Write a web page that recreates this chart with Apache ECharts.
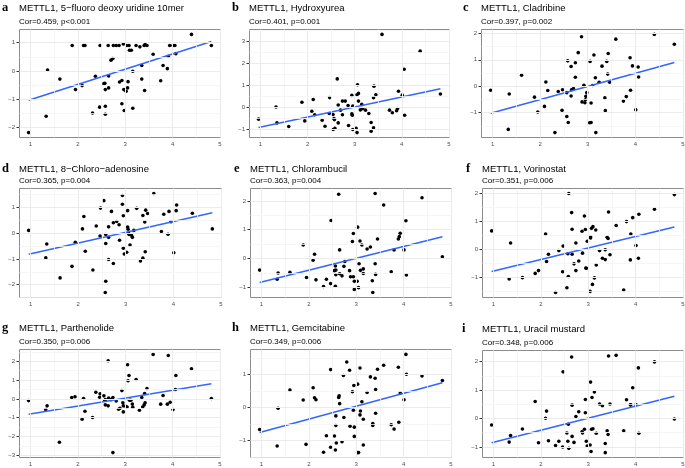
<!DOCTYPE html>
<html>
<head>
<meta charset="utf-8">
<script src="https://cdn.jsdelivr.net/npm/echarts@6/dist/echarts.min.js"></script>
<style>
  html, body { margin: 0; padding: 0; background: #fff; }
  #chart { width: 685px; height: 468px; }
</style>
</head>
<body>
<div id="chart"></div>
<script>
// panel letters, titles and correlation captions
const panelLetters = ['a', 'b', 'c', 'd', 'e', 'f', 'g', 'h', 'i'];
const drugNames = [
  'METTL1, 5\u2212fluoro deoxy uridine 10mer',
  'METTL1, Hydroxyurea',
  'METTL1, Cladribine',
  'METTL1, 8\u2212Chloro\u2212adenosine',
  'METTL1, Chlorambucil',
  'METTL1, Vorinostat',
  'METTL1, Parthenolide',
  'METTL1, Gemcitabine',
  'METTL1, Uracil mustard'
];
const corLabels = [
  'Cor=0.459, p<0.001', 'Cor=0.401, p=0.001', 'Cor=0.397, p=0.002',
  'Cor=0.365, p=0.004', 'Cor=0.363, p=0.004', 'Cor=0.351, p=0.006',
  'Cor=0.350, p=0.006', 'Cor=0.349, p=0.006', 'Cor=0.348, p=0.006'
];

// [METTL1 expression, drug sensitivity]
const pointsA = [
  [0.96,-2.18],[1.33,-1.6],[1.36,0.03],[1.62,-0.29],[1.88,0.9],[1.95,-0.66],[2.09,-0.52],[2.12,0.9],[2.15,0.9],
  [2.31,-1.49],[2.37,-0.19],[2.46,-1.28],[2.47,0.9],[2.55,-0.45],[2.57,-0.44],[2.58,-0.66],[2.58,-1.25],[2.58,-1.53],
  [2.64,0.9],[2.65,-0.18],[2.65,-0.6],[2.70,0.38],[2.74,0.44],[2.75,0.9],[2.81,0.9],[2.87,0.9],[2.88,-0.39],
  [2.93,-0.34],[2.93,-1.16],[2.96,0.95],[2.97,-0.66],[2.98,-1.4],[3.02,-0.72],[3.03,0.9],[3.05,-0.6],[3.06,-0.38],
  [3.08,0.9],[3.09,0.73],[3.13,0.73],[3.16,-0.01],[3.16,-1.32],[3.23,0.9],[3.31,0.85],[3.35,0.19],[3.35,-0.29],
  [3.40,0.9],[3.42,0.93],[3.46,0.9],[3.41,-0.69],[3.59,0.59],[3.75,-0.35],[3.80,0.19],[3.89,0.08],[3.91,0.52],
  [3.94,0.9],[4.01,0.9],[4.05,0.9],[4.07,0.61],[4.40,1.29],[4.82,0.9]
];
const pointsB = [
  [0.96,-0.53],[1.33,0.02],[1.35,-0.70],[1.60,-0.86],[1.88,0.24],[1.94,-0.61],[2.09,-0.17],[2.12,0.36],[2.15,-0.33],
  [2.31,-0.58],[2.37,-0.85],[2.46,-0.27],[2.47,0.45],[2.54,-0.32],[2.56,-0.50],[2.57,-0.55],[2.54,-1.0],[2.58,-0.95],
  [2.63,1.30],[2.65,0.11],[2.65,-0.70],[2.70,-0.12],[2.74,0.29],[2.74,-0.33],[2.80,0.29],[2.86,0.09],[2.87,-0.82],
  [2.94,-0.29],[2.94,0.55],[2.95,-0.35],[2.96,0.06],[2.96,-1.0],[3.03,-0.95],[3.05,-1.14],[3.05,0.58],[3.06,1.03],
  [3.08,0.64],[3.08,0.29],[3.12,-0.11],[3.15,0.14],[3.17,-0.05],[3.23,-0.12],[3.30,-0.27],[3.35,-0.68],[3.35,-1.08],
  [3.40,0.44],[3.41,0.97],[3.40,-0.92],[3.45,0.58],[3.58,3.32],[3.74,-0.12],[3.80,-0.24],[3.89,-0.15],[3.91,-0.05],
  [3.93,0.74],[4.01,0.56],[4.05,1.74],[4.06,-0.35],[4.39,2.56],[4.82,0.61]
];
const pointsC = [
  [0.96,-0.15],[1.35,-0.29],[1.33,-1.63],[1.61,0.42],[1.88,-0.41],[1.95,-0.97],[2.09,-0.76],[2.12,0.16],[2.16,-0.16],
  [2.31,-1.75],[2.38,-0.2],[2.46,-0.91],[2.47,-0.13],[2.56,-0.24],[2.56,-1.14],[2.58,0.96],[2.59,-1.37],[2.65,0.75],
  [2.65,-0.37],[2.66,-0.13],[2.70,-0.09],[2.74,0.89],[2.74,0.34],[2.80,1.27],[2.87,1.87],[2.88,-0.59],[2.92,0.04],
  [2.94,-0.62],[2.95,-0.51],[2.96,-0.38],[2.98,-0.24],[3.04,-1.38],[3.05,0.94],[3.07,-0.63],[3.07,-1.37],[3.10,0.03],
  [3.13,1.18],[3.16,0.32],[3.17,-1.75],[3.24,0.15],[3.30,0.76],[3.36,-0.44],[3.37,-0.92],[3.40,0.94],[3.42,0.46],
  [3.43,1.24],[3.46,0.15],[3.59,1.78],[3.75,-0.56],[3.81,-0.39],[3.89,1.08],[3.90,-0.15],[3.94,0.77],[4.01,-0.89],
  [4.06,0.73],[4.07,0.35],[4.40,1.96],[4.82,1.59]
];
const pointsD = [
  [0.96,0.11],[1.34,-0.42],[1.32,-0.96],[1.62,-1.74],[1.87,-1.29],[1.94,-0.35],[2.09,0.17],[2.12,0.65],[2.15,-0.70],
  [2.31,-1.43],[2.38,0.28],[2.46,-0.11],[2.47,0.98],[2.54,1.27],[2.57,-2.31],[2.58,-0.05],[2.58,-0.40],[2.58,-1.87],
  [2.64,0.25],[2.64,-0.16],[2.64,-1.02],[2.70,0.85],[2.74,0.41],[2.74,-1.18],[2.81,0.46],[2.86,0.33],[2.87,-0.27],
  [2.93,1.47],[2.93,1.13],[2.95,0.68],[2.95,-0.58],[2.97,-0.81],[3.02,-0.74],[3.04,0.24],[3.04,0.88],[3.05,0.16],
  [3.06,0.0],[3.07,-0.05],[3.09,-0.46],[3.12,-0.08],[3.14,-0.16],[3.17,0.11],[3.23,0.97],[3.31,-1.08],[3.36,-0.97],
  [3.36,0.69],[3.40,0.44],[3.41,-0.72],[3.42,0.90],[3.46,0.77],[3.59,1.55],[3.75,0.07],[3.80,0.74],[3.89,-0.04],
  [3.91,0.85],[3.95,0.45],[4.01,-0.76],[4.06,0.88],[4.07,1.10],[4.40,0.78],[4.82,0.17]
];
const pointsE = [
  [0.96,-0.40],[1.33,-0.72],[1.35,-0.50],[1.60,-0.48],[1.88,0.47],[1.95,-0.66],[2.09,-0.06],[2.12,0.15],[2.15,-0.74],
  [2.31,-0.97],[2.37,-0.72],[2.46,-0.87],[2.47,1.32],[2.54,-0.42],[2.56,-0.26],[2.57,-0.40],[2.57,-0.56],[2.56,-0.96],
  [2.63,2.23],[2.65,0.30],[2.65,-0.53],[2.70,-0.60],[2.74,-0.27],[2.76,-0.10],[2.86,-0.42],[2.88,-0.63],[2.92,0.59],
  [2.94,0.87],[2.94,-0.63],[2.96,-0.79],[2.96,-1.07],[3.02,-0.79],[3.03,1.09],[3.05,-1.01],[3.06,-0.18],[3.08,0.61],
  [3.09,-0.41],[3.12,0.47],[3.15,-0.36],[3.15,-0.52],[3.23,0.33],[3.30,0.40],[3.34,-0.77],[3.35,-1.18],[3.40,-0.18],
  [3.40,2.26],[3.41,-0.55],[3.45,0.68],[3.58,1.86],[3.74,-0.46],[3.80,0.30],[3.89,0.68],[3.91,0.76],[3.93,0.88],
  [4.01,0.30],[4.05,1.31],[4.06,-0.57],[4.39,2.11],[4.82,0.06]
];
const pointsF = [
  [0.96,0.65],[1.33,-1.06],[1.36,0.22],[1.61,-1.01],[1.88,-0.86],[1.95,-0.76],[2.10,0.54],[2.12,-0.44],[2.16,-0.18],
  [2.31,-1.54],[2.38,-0.05],[2.46,-0.80],[2.47,0.11],[2.55,-1.37],[2.57,-0.16],[2.58,-0.97],[2.59,1.98],[2.65,1.30],
  [2.66,0.71],[2.66,-0.18],[2.70,-0.52],[2.74,-0.76],[2.74,0.22],[2.80,-0.42],[2.87,0.64],[2.88,-0.14],[2.92,1.18],
  [2.94,0.70],[2.95,-0.67],[2.96,-0.68],[2.98,0.28],[3.04,-1.5],[3.05,0.40],[3.05,0.44],[3.07,0.74],[3.09,-1.25],
  [3.10,0.80],[3.13,-1.02],[3.16,0.68],[3.17,-0.56],[3.24,-0.05],[3.30,-0.32],[3.36,-0.37],[3.36,-0.02],[3.40,0.42],
  [3.42,0.38],[3.43,1.32],[3.46,-0.20],[3.59,0.84],[3.75,-1.45],[3.81,0.98],[3.89,-0.38],[3.90,0.54],[3.94,1.12],
  [4.01,0.13],[4.06,-0.32],[4.07,1.24],[4.40,1.42],[4.82,1.94]
];
const pointsG = [
  [0.96,-0.09],[1.32,-0.57],[1.35,-0.37],[1.61,-2.30],[1.87,0.07],[1.94,0.11],[2.09,-1.08],[2.12,0.02],[2.15,-0.66],
  [2.31,-0.99],[2.38,0.35],[2.46,0.09],[2.47,0.27],[2.55,0.16],[2.57,-0.07],[2.58,-0.32],[2.58,-0.04],[2.64,2.02],
  [2.64,-0.37],[2.65,0.04],[2.70,-0.04],[2.74,0.07],[2.74,-2.85],[2.81,-0.11],[2.86,-0.55],[2.89,-0.50],[2.93,0.44],
  [2.95,-0.21],[2.96,-0.69],[2.96,-0.37],[3.01,-0.39],[3.04,-0.43],[3.05,1.81],[3.06,0.96],[3.08,1.24],[3.09,-0.07],
  [3.12,-0.07],[3.15,-0.27],[3.16,-0.44],[3.23,1.03],[3.30,-0.60],[3.35,0.07],[3.37,-0.43],[3.40,-0.32],[3.41,0.28],
  [3.42,-0.21],[3.46,0.55],[3.59,2.36],[3.75,-0.28],[3.80,0.18],[3.89,-0.28],[3.91,2.30],[3.95,-0.18],[4.01,-0.57],
  [4.06,0.50],[4.07,1.24],[4.40,1.60],[4.82,0.02]
];
const pointsH = [
  [0.96,-0.66],[1.33,-1.16],[1.35,-0.02],[1.60,0.53],[1.88,0.23],[1.94,-1.11],[2.09,0.60],[2.12,0.30],[2.15,0.24],
  [2.31,-1.35],[2.37,-0.85],[2.46,1.15],[2.46,-1.20],[2.54,-0.86],[2.56,-1.28],[2.57,-0.25],[2.57,-0.54],[2.58,-1.07],
  [2.63,0.31],[2.64,0.36],[2.65,0.12],[2.70,-1.03],[2.73,0.97],[2.74,-0.30],[2.80,1.38],[2.86,1.13],[2.87,-0.56],
  [2.92,0.48],[2.94,-0.08],[2.95,0.67],[2.96,-0.59],[2.96,-0.87],[3.03,0.71],[3.03,-1.36],[3.05,-1.36],[3.08,1.20],
  [3.08,-0.22],[3.09,-0.10],[3.12,0.18],[3.15,-1.13],[3.15,-0.35],[3.23,0.46],[3.30,0.93],[3.35,-0.48],[3.35,-0.54],
  [3.40,0.89],[3.41,0.55],[3.41,-0.17],[3.45,1.16],[3.58,1.28],[3.74,-0.52],[3.80,-0.65],[3.89,1.22],[3.90,-0.44],
  [3.93,0.44],[4.01,0.24],[4.05,1.61],[4.06,1.01],[4.39,0.96],[4.82,0.82]
];
const pointsI = [
  [0.96,-0.23],[1.33,-0.83],[1.36,-0.60],[1.61,-0.37],[1.88,0.60],[1.95,-0.85],[2.10,0.01],[2.12,0.26],[2.16,-0.78],
  [2.31,-0.95],[2.38,-0.80],[2.46,-1.0],[2.47,1.64],[2.55,-0.51],[2.57,-0.80],[2.58,-0.20],[2.59,-1.05],[2.65,2.16],
  [2.66,0.47],[2.66,-0.63],[2.70,-0.84],[2.74,0.07],[2.80,0.24],[2.87,-0.47],[2.88,-0.51],[2.92,-0.38],[2.94,0.67],
  [2.94,0.20],[2.96,-0.80],[2.98,-0.97],[3.04,-0.93],[3.05,1.28],[3.06,-1.16],[3.07,-0.38],[3.08,0.74],[3.10,-0.36],
  [3.13,0.93],[3.17,-0.52],[3.24,0.51],[3.30,0.45],[3.36,-0.88],[3.36,-1.20],[3.40,-0.43],[3.42,-0.56],[3.43,2.20],
  [3.46,0.51],[3.59,2.22],[3.75,-0.43],[3.81,0.66],[3.89,0.48],[3.90,0.48],[3.94,1.08],[4.01,0.48],[4.06,1.78],
  [4.07,-0.52],[4.40,1.99],[4.82,-0.02]
];
const panelPoints = [pointsA, pointsB, pointsC, pointsD, pointsE, pointsF, pointsG, pointsH, pointsI];

// fitted line value at the lowest and highest METTL1 expression
const fitLines = [
  [-1.04, 1.04], [-0.91, 0.85], [-1.02, 0.90],
  [-0.82, 0.80], [-0.83, 0.76], [-0.79, 0.79],
  [-0.82, 0.80], [-0.75, 0.75], [-0.85, 0.78]
];
const xTicks = [1, 2, 3, 4, 5];

// panel boxes in px (left, top, width, height)
const boxes = [
  [19, 29, 201, 108], [249, 29, 200, 108], [481, 29, 202, 108],
  [19, 188, 202, 109], [250, 188, 201, 109], [482, 188, 201, 109],
  [19, 349, 201, 108], [250, 349, 201, 108], [482, 350, 201, 107]
];
const letterX = [2, 232, 463, 2, 234, 466, 2, 232, 462];
const titleLift = [26, 26, 26, 24, 24, 24, 26, 26, 26];

const SANS = '"Liberation Sans", Arial, sans-serif';
const minus = v => String(v).replace('-', '\u2212');

function expand(vals) {
  const lo = Math.min(...vals), hi = Math.max(...vals);
  const pad = (hi - lo) * 0.05;
  return [lo - pad, hi + pad];
}

function gridLineData(lo, hi, key) {
  const out = [];
  for (let v = Math.ceil(lo * 2) / 2; v <= hi; v += 0.5) {
    const major = Number.isInteger(v);
    out.push({
      [key]: v,
      lineStyle: { color: major ? '#EBEBEB' : '#F4F4F4', width: major ? 1 : 0.8, type: 'solid' }
    });
  }
  return out;
}

const grids = [], xAxes = [], yAxes = [], series = [], titles = [];

panelPoints.forEach((pts, i) => {
  const [left, top, width, height] = boxes[i];
  const xs = pts.map(p => p[0]);
  const xMin = Math.min(...xs), xMax = Math.max(...xs);
  const fitData = [[xMin, fitLines[i][0]], [xMax, fitLines[i][1]]];
  const [xLo, xHi] = expand(xs);
  const [yLo, yHi] = expand(pts.map(p => p[1]).concat(fitLines[i]));
  const yTicks = [];
  for (let v = Math.ceil(yLo); v <= yHi; v++) yTicks.push(v);

  // half pixel offset keeps the 1px panel border crisp
  grids.push({
    left: left + 0.5, top: top + 0.5, width, height,
    show: true, z: 5,
    borderColor: '#8C8C8C', borderWidth: 1,
    backgroundColor: 'transparent',
    containLabel: false, outerBoundsMode: 'none'
  });

  const tickStyle = { show: true, length: 3, lineStyle: { color: '#333', width: 1 } };
  const labelStyle = { fontSize: 6, color: '#4D4D4D', fontFamily: SANS };

  xAxes.push({
    gridIndex: i, type: 'value', min: xLo, max: xHi,
    axisLine: { show: false },
    axisTick: Object.assign({ customValues: xTicks }, tickStyle),
    axisLabel: Object.assign({ customValues: xTicks, margin: 3.5, formatter: minus }, labelStyle),
    splitLine: { show: false }
  });
  yAxes.push({
    gridIndex: i, type: 'value', min: yLo, max: yHi,
    axisLine: { show: false },
    axisTick: Object.assign({ customValues: yTicks }, tickStyle),
    axisLabel: Object.assign({ customValues: yTicks, margin: 4.5, formatter: minus }, labelStyle),
    splitLine: { show: false }
  });

  // background grid, major at whole numbers and minor at halves
  series.push({
    type: 'line', xAxisIndex: i, yAxisIndex: i, data: [], z: 1, silent: true,
    markLine: {
      silent: true, symbol: ['none', 'none'], label: { show: false }, animation: false,
      data: gridLineData(xLo, xHi, 'xAxis').concat(gridLineData(yLo, yHi, 'yAxis'))
    }
  });
  series.push({
    type: 'scatter', xAxisIndex: i, yAxisIndex: i, data: pts, z: 2,
    symbol: 'circle', symbolSize: 3.6, silent: true,
    itemStyle: { color: '#000', borderWidth: 0, opacity: 1 }
  });
  series.push({
    type: 'line', xAxisIndex: i, yAxisIndex: i, data: fitData, z: 3, silent: true,
    showSymbol: false, lineStyle: { color: '#3366FF', width: 1.6 }
  });

  titles.push({
    text: drugNames[i], left, top: top - titleLift[i], padding: 0,
    textStyle: { fontSize: 9.5, fontWeight: 'normal', color: '#000', fontFamily: SANS }
  });
  titles.push({
    text: corLabels[i], left, top: top - 11.5, padding: 0,
    textStyle: { fontSize: 8, fontWeight: 'normal', color: '#000', fontFamily: SANS }
  });
  titles.push({
    text: panelLetters[i], left: letterX[i], top: top - titleLift[i] - 2, padding: 0,
    textStyle: { fontSize: 12.5, fontWeight: 'bold', color: '#000', fontFamily: '"Liberation Serif", "Times New Roman", serif' }
  });
});

const chart = echarts.init(document.getElementById('chart'), null, { renderer: 'canvas' });
chart.setOption({
  animation: false,
  backgroundColor: '#fff',
  title: titles,
  grid: grids,
  xAxis: xAxes,
  yAxis: yAxes,
  series: series
});
</script>
</body>
</html>
